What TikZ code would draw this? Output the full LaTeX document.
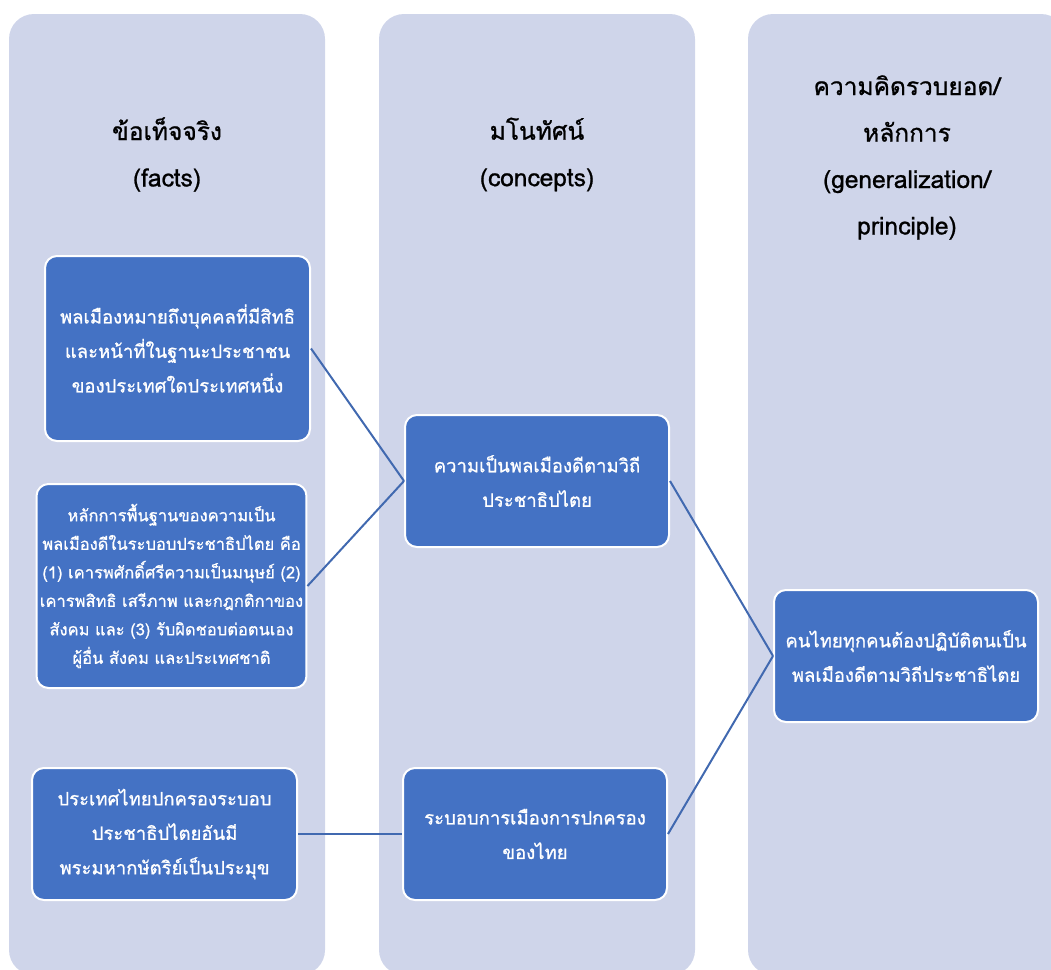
\documentclass[tikz,border=0pt]{standalone}
\usepackage{fontspec}
\newfontfamily\thaifont[Script=Thai,FakeBold=0.9]{Loma}
\definecolor{colbg}{HTML}{CFD5EA}
\definecolor{boxblue}{HTML}{4472C4}
\definecolor{linkblue}{HTML}{4169B0}

\begin{document}
\begin{tikzpicture}[x=1pt,y=-1pt,
  column/.style={fill=colbg,rounded corners=25pt},
  card/.style={fill=boxblue,draw=white,line width=2pt,rounded corners=12pt,text=white,align=center,minimum width=264pt,minimum height=132pt,font=\thaifont\fontsize{18.5}{34.5}\selectfont},
  head/.style={align=center,font=\thaifont\fontsize{24.5}{46.5}\selectfont},
  link/.style={draw=linkblue,line width=2pt}]

\useasboundingbox (0,0) rectangle (1051,969);
\clip (0,0) rectangle (1051,969);

\fill[column] (9,14) rectangle (325,975);
\fill[column] (379,14) rectangle (695,975);
\fill[column] (748,14) rectangle (1066,975);

\node[head] (facthead) at (167,154.5) {ข้อเท็จจริง\\(facts)};
\node[head] (concepthead) at (537,154.5) {มโนทัศน์\\(concepts)};
\node[head] (generalhead) at (907,157.5) {ความคิดรวบยอด/\\หลักการ\\(generalization/\\principle)};

\node[card,minimum width=265pt,minimum height=185pt] (citizen) at (177.5,348.5)
  {พลเมืองหมายถึงบุคคลที่มีสิทธิ\\และหน้าที่ในฐานะประชาชน\\ของประเทศใดประเทศหนึ่ง};
\node[card,minimum width=263pt,minimum height=204pt,font=\thaifont\fontsize{16.5}{28.5}\selectfont] (principles) at (171.5,586)
  {หลักการพื้นฐานของความเป็น\\พลเมืองดีในระบอบประชาธิปไตย คือ\\(1) เคารพศักดิ์ศรีความเป็นมนุษย์ (2)\\เคารพสิทธิ เสรีภาพ และกฎกติกาของ\\สังคม และ (3) รับผิดชอบต่อตนเอง\\ผู้อื่น สังคม และประเทศชาติ};
\node[card,minimum width=265pt] (monarchy) at (164.5,834)
  {ประเทศไทยปกครองระบอบ\\ประชาธิปไตยอันมี\\พระมหากษัตริย์เป็นประมุข};

\node[card] (goodcitizen) at (537,481) {ความเป็นพลเมืองดีตามวิถี\\ประชาธิปไตย};
\node[card] (politics) at (535,834) {ระบอบการเมืองการปกครอง\\ของไทย};

\node[card] (everyone) at (906,656) {คนไทยทุกคนต้องปฏิบัติตนเป็น\\พลเมืองดีตามวิถีประชาธิไตย};

\draw[link] (citizen.east) -- (goodcitizen.west);
\draw[link] (principles.east) -- (goodcitizen.west);
\draw[link] (monarchy.east) -- (politics.west);
\draw[link] (goodcitizen.east) -- (everyone.west);
\draw[link] (politics.east) -- (everyone.west);

\end{tikzpicture}
\end{document}
